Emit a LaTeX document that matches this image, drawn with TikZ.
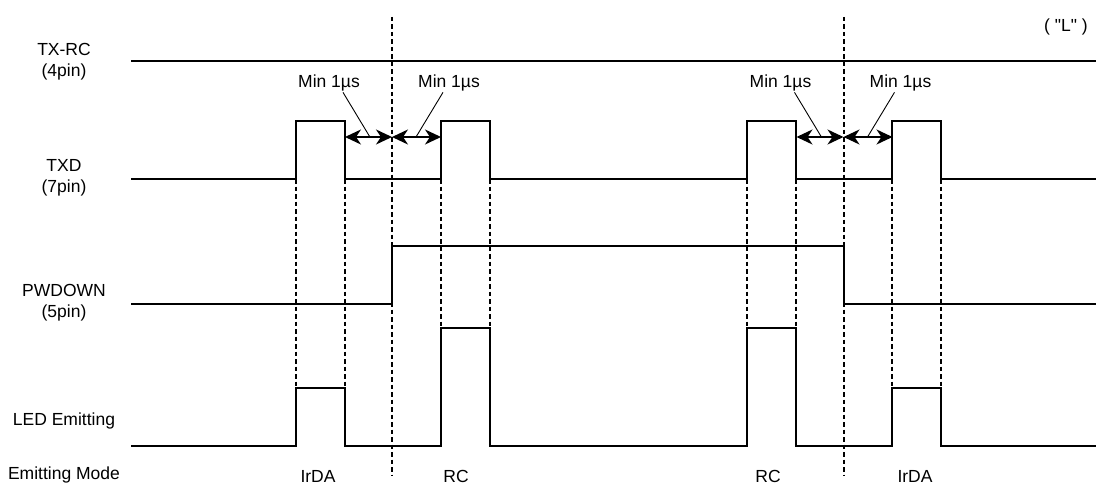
\documentclass[tikz,border=0pt]{standalone}
\usepackage{fontspec}
\setmainfont{Liberation Sans}
\newfontfamily\lvlfont{Liberation Sans}
\usepackage{tikz}
\usetikzlibrary{arrows.meta,calc}

\tikzset{
  sig/.style={line width=2.2pt, line join=miter},
  guide/.style={line width=2.2pt, dash pattern=on 4.5pt off 3pt},
  dimarrow/.style={{Stealth[length=16pt,width=15pt,inset=5pt]}-{Stealth[length=16pt,width=15pt,inset=5pt]}, line width=2pt},
  leader/.style={line width=0.9pt},
  lbl/.style={font=\fontsize{17.5}{21.3}\selectfont, align=center, inner sep=1pt}
}

\begin{document}
\begin{tikzpicture}[x=1pt,y=-1pt]
  \useasboundingbox (0,0) rectangle (1096,487);
  % Signal names
  \node[lbl] (txrc) at (64,62) {TX-RC\\(4pin)};
  \node[lbl] (txd)  at (64,178) {TXD\\(7pin)};
  \node[lbl] (pwd)  at (64,303) {PWDOWN\\(5pin)};
  \node[lbl] (led)  at (64,421) {LED Emitting};
  \node[lbl] (mode) at (64,475) {Emitting Mode};
  \node[lbl] (lvl)  at (1066,27) {\lvlfont ( "L" )};
  % TX-RC stays low
  \draw[sig] (131,61) -- (1096,61);
  % TXD pulses
  \draw[sig] (131,179)
    \foreach \a/\b in {296/345, 441/490, 747/796, 892/941} { -| (\a,121) -| (\b,179) }
    -- (1096,179);
  % PWDOWN
  \draw[sig] (131,304) -| (392,246) -| (844,304) -- (1096,304);
  % LED output: IrDA low, RC high
  \draw[sig] (131,446)
    \foreach \a/\b/\h in {296/345/388, 441/490/328, 747/796/328, 892/941/388} { -| (\a,\h) -| (\b,446) }
    -- (1096,446);
  % Edge guides
  \foreach \x/\h in {296/388, 345/388, 441/328, 490/328, 747/328, 796/328, 892/388, 941/388}
    \draw[guide] (\x,179) -- (\x,\h);
  \foreach \x in {392, 844}
    \draw[guide] (\x,17) -- (\x,476);
  % Minimum timing
  \foreach \s/\o in {l/0, r/451.5} {
    \node[lbl] (minA\s) at ({329+\o},83) {Min 1µs};
    \node[lbl] (minB\s) at ({449+\o},83) {Min 1µs};
    \coordinate (edgeA\s) at ({345+\o},137);
    \coordinate (mid\s)   at ({392+\o},137);
    \coordinate (edgeB\s) at ({441+\o},137);
    \draw[dimarrow] (edgeA\s) -- (mid\s);
    \draw[dimarrow] (mid\s) -- (edgeB\s);
    \draw[leader] ([xshift=14pt]minA\s.south) -- ($(edgeA\s)!0.53!(mid\s)$);
    \draw[leader] ([xshift=-6pt]minB\s.south) -- ($(mid\s)!0.49!(edgeB\s)$);
  }
  % Emitting mode
  \node[lbl] (m1) at (318,476) {IrDA};
  \node[lbl] (m2) at (456,476) {RC};
  \node[lbl] (m3) at (768,476) {RC};
  \node[lbl] (m4) at (915,476) {IrDA};
\end{tikzpicture}
\end{document}
